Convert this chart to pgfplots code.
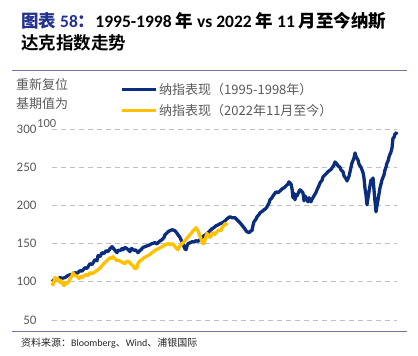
\documentclass[border=0pt]{standalone}
\usepackage{pgfplots}
\pgfplotsset{compat=1.18}
\usepackage{fontspec}
\setmainfont{Carlito}
\newfontfamily\cjk{Noto Sans CJK SC}
\newfontfamily\cjkb{Noto Sans CJK SC Bold}
\definecolor{navy}{HTML}{0B2D7D}
\definecolor{gold}{HTML}{FFC000}
\definecolor{titleblue}{HTML}{23318F}
\definecolor{rule}{HTML}{7373A0}
\definecolor{txt}{HTML}{595959}
\definecolor{grid}{HTML}{D9D9D9}
\begin{document}
\begin{tikzpicture}[x=1pt,y=1pt]
\path[use as bounding box] (0,0) rectangle (418,-356);
% title
\node[anchor=west,inner sep=0pt,font=\fontsize{17.5}{20}\selectfont\bfseries] at (21,-21)
  {{\cjkb\color{titleblue}图表} {\color{titleblue}58}{\cjkb\color{titleblue}：}1995-1998 {\cjkb 年} vs 2022 {\cjkb 年} 11 {\cjkb 月至今纳斯}};
\node[anchor=west,inner sep=0pt,font=\fontsize{17.5}{20}\selectfont\cjkb] at (21,-43) {达克指数走势};
\draw[rule,line width=1pt] (12,-70) -- (407,-70);
\draw[rule,line width=1pt] (12,-331) -- (407,-331);
\node[anchor=west,inner sep=0pt,font=\fontsize{10}{12}\selectfont,text=black!85] at (21,-343)
  {{\cjk 资料来源：}Bloomberg{\cjk 、}Wind{\cjk 、浦银国际}};
% y label
\node[anchor=west,inner sep=0pt,font=\fontsize{13}{15}\selectfont\cjk,text=txt] at (16,-85) {重新复位};
\node[anchor=west,inner sep=0pt,font=\fontsize{13}{15}\selectfont\cjk,text=txt] at (16,-104) {基期值为};
\node[anchor=west,inner sep=0pt,font=\fontsize{12.5}{15}\selectfont,text=txt] at (37,-123) {100};
% legend
\draw[navy,line width=3pt] (122,-89.5) -- (156,-89.5);
\draw[gold,line width=3pt] (122,-110.5) -- (156,-110.5);
\node[anchor=west,inner sep=0pt,font=\fontsize{13}{15}\selectfont\cjk,text=txt] at (159,-89.5) {纳指表现（1995-1998年）};
\node[anchor=west,inner sep=0pt,font=\fontsize{13}{15}\selectfont\cjk,text=txt] at (159,-110.5) {纳指表现（2022年11月至今）};
\begin{axis}[
  at={(52pt,-320pt)}, anchor=south west,
  scale only axis, width=345pt, height=191pt,
  xmin=0, xmax=345, ymin=50, ymax=300,
  axis line style={draw=none},
  xtick=\empty,
  ytick={50,100,150,200,250,300},
  major tick length=0pt,
  ymajorgrids,
  grid style={grid, dash pattern=on 5pt off 4pt, line width=1pt},
  yticklabel style={font=\fontsize{13}{15}\selectfont, text=txt, xshift=-12pt},
  /pgf/number format/assume math mode=true,
  clip=false,
]
\addplot[navy, line width=3.3pt, line join=round] coordinates {
(0,100.3)(2,102.5)(4,101.6)(6,104)(8,105.5)(10,104.5)(13,105.5)(15,107.5)(18,109.4)(20,108.5)(23,112)(25,111)(28,114.6)(30,114)(33,118.5)(35,117.5)(38,123.8)(40,122.5)(43,129)(45,127.5)(46,134.2)(48,133)(50,138.1)(52,137)(54,140.7)(56,139.5)(58,143.3)(60,146)(61,144.6)(63,141)(65,138.1)(66,141.5)(68,140.7)(70,143.5)(71,142)(73,145)(75,143.3)(77,141)(78,139.4)(79,143.5)(80,143.3)(82,141)(83,142)(85,140)(86,138.1)(88,141)(89,142)(91,145)(93,146)(96,147.5)(98,148.6)(100,150)(103,151.2)(105,149.5)(106,151.2)(108,153.5)(110,155.1)(112,158)(113,161.6)(115,164)(116,165.5)(118,167)(120,168.1)(122,167.5)(123,166.8)(125,163.5)(126,161.6)(128,158)(129,155.1)(131,150)(132,146)(133,143)(134,142)(135,147)(136,149.9)(138,151)(140,152.5)(142,152)(144,153.8)(146,153)(148,155.1)(150,158)(152,160.3)(154,162)(156,164.2)(158,167)(160,169.4)(162,171)(164,173.4)(166,174.5)(168,176)(170,177)(172,178.6)(174,181)(175,182.5)(177,184.5)(178,185.1)(180,184)(181,183.8)(183,184)(184,182.5)(186,180)(188,177.3)(190,174)(192,170.8)(194,167)(195,165.5)(197,164.5)(198,165.5)(199,167)(200,166.8)(201,174)(202,178.6)(204,182)(205,185.1)(207,188)(208,190.3)(210,192)(212,194.3)(214,196)(215,198.2)(217,203)(218,207.3)(220,210)(221,212.5)(223,216)(224,217.8)(226,216.5)(227,217.8)(229,220)(230,221.7)(232,223)(234,225.6)(236,228)(237,230.8)(238,229.5)(239,228.2)(240,222)(241,210)(242,216)(243,207.3)(244,214)(245,212.5)(247,218)(248,220.4)(250,218)(251,216.4)(252,206)(253,212.5)(255,207)(256,204.7)(257,210)(259,204.7)(260,208)(262,212.5)(264,217)(265,220.4)(267,226)(268,229.5)(270,233)(271,237.3)(273,240)(274,241.3)(276,244)(277,245.2)(279,247)(280,249.1)(282,253)(283,256.9)(285,254)(286,251.7)(288,250)(289,246.5)(291,244)(292,238.6)(294,235)(295,232.1)(297,238)(298,243.9)(299,250)(300,255.6)(302,262)(303,268.7)(304,264)(306,259.5)(307,254)(308,251.7)(309,250)(310,246.5)(311,243)(312,236)(313,222)(314,213.8)(315,200.8)(316,210)(317,217.8)(318,226)(319,233.4)(320,230)(321,236)(322,220.4)(323,205)(324,191.6)(325,200)(326,207.3)(327,215)(328,223)(329,228)(330,233.4)(332,240)(333,246.5)(334,250)(335,255.6)(336,258)(337,263.4)(338,267)(339,270)(340,275.2)(341,288.2)(342,289)(343,293.5)(344,294)(345,296.1)
};
\addplot[gold, line width=3.3pt, line join=round] coordinates {
(0,99)(1,96)(3,105.5)(5,102)(6,104.2)(8,99)(9,101.6)(11,97)(12,95)(14,99)(15,97.6)(17,101)(18,104.2)(20,108)(21,112)(22,109)(24,108.1)(26,106)(27,104.2)(29,107)(30,105.5)(32,108)(34,109.4)(36,108)(38,112)(40,110.5)(42,112)(44,114)(46,115.9)(48,118)(50,121.1)(52,124)(54,126.4)(56,129)(58,131.6)(60,130.5)(61,132.9)(63,130)(65,127.7)(67,128)(69,126.4)(71,125)(73,123.8)(75,127)(77,126.4)(79,123)(81,121.1)(83,117)(85,118.5)(86,124)(88,127.7)(90,129)(92,131.6)(94,133)(96,134.2)(98,136)(100,138.1)(102,140)(104,142)(106,143)(108,144.6)(110,146)(112,147.2)(114,149)(116,149.9)(118,148.5)(120,149.9)(122,148)(123,146)(125,143)(126,142)(128,147)(129,148.6)(131,151)(133,153.8)(135,157)(137,160.3)(139,163)(141,166.8)(143,169)(144,170.8)(146,167)(147,163.3)(149,156)(150,152.5)(151,150)(152,149.9)(154,159)(155,163.3)(157,160)(158,158.1)(160,162)(161,164.2)(163,162)(164,164.2)(166,167)(167,168.1)(169,167)(170,170.8)(172,174)(173,176)(174,175)(175,177.3)
};
\end{axis}
\end{tikzpicture}
\end{document}
